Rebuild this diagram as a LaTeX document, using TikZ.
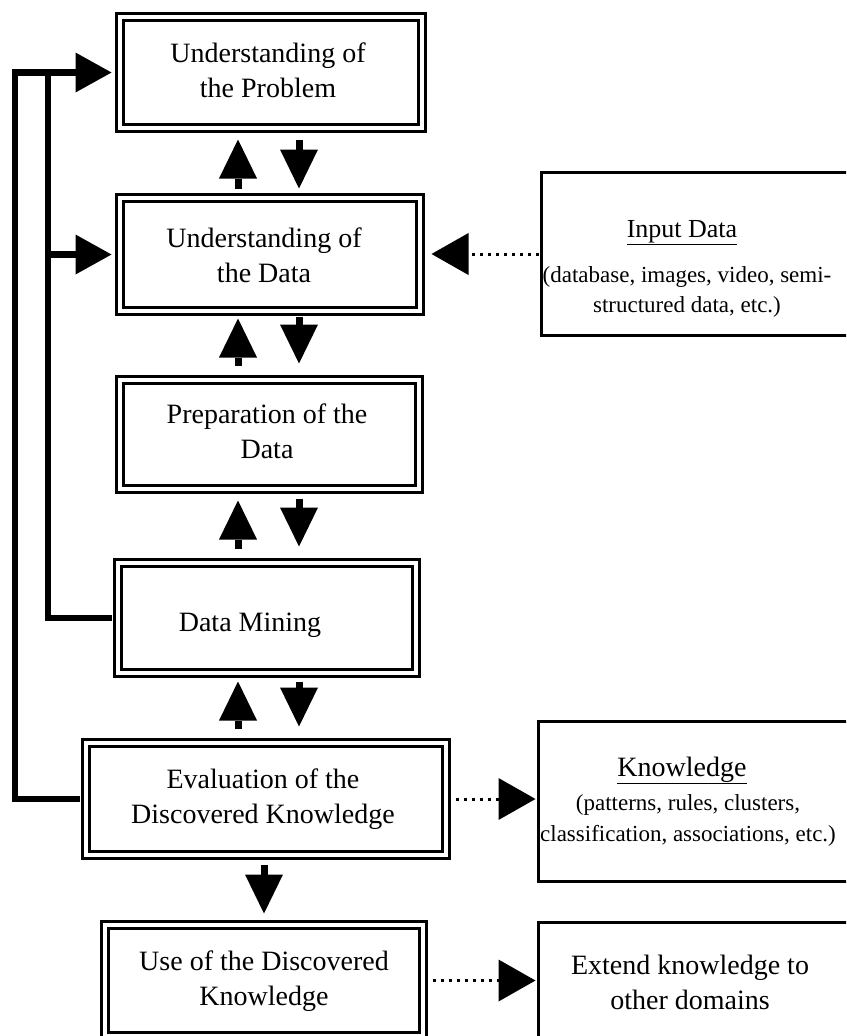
\documentclass[tikz,border=0pt]{standalone}
\usepackage{fontspec}
\setmainfont{Liberation Serif}
\usetikzlibrary{arrows.meta}
\begin{document}
\begin{tikzpicture}[x=1pt,y=-1pt,
 dbox/.style={draw, line width=3pt, double=white, double distance=4pt, inner sep=0pt},
 sbox/.style={draw, line width=3pt, inner sep=0pt},
 big/.style={font=\fontsize{28}{35}\selectfont, align=center, inner sep=0pt},
 small/.style={font=\fontsize{23}{30}\selectfont, align=center, inner sep=0pt},
 varrow/.style={line width=7pt, -{Triangle[length=39pt,width=38pt,line width=0pt]}},
 fb/.style={line width=6.5pt},
 fba/.style={fb, -{Triangle[length=36pt,width=40pt,line width=0pt]}},
 darr/.style={line width=3pt, dash pattern=on 3pt off 5pt, -{Triangle[length=37pt,width=42pt,line width=0pt]}}]
\useasboundingbox (0,0) rectangle (846,1036);
\fill[white] (0,0) rectangle (846,1036);
\clip (0,0) rectangle (846,1036);
% columns
\coordinate (xo) at (15,0);
\coordinate (xi) at (48,0);
\coordinate (cu) at (238,0);
\coordinate (cd) at (299,0);
\coordinate (ce) at (264,0);
% boxes
\node[dbox, minimum width=302pt, minimum height=111pt] (b1) at (271,72.5) {};
\node[dbox, minimum width=300pt, minimum height=113pt] (b2) at (270,254.5) {};
\node[dbox, minimum width=299pt, minimum height=109pt] (b3) at (269.5,434.5) {};
\node[dbox, minimum width=298pt, minimum height=110pt] (b4) at (267,618) {};
\node[dbox, minimum width=360pt, minimum height=112pt] (ev) at (266,799) {};
\node[dbox, minimum width=318pt, minimum height=111pt] (use) at (264,980.5) {};
\node[sbox, minimum width=309pt, minimum height=163pt] (inp) at (696,254) {};
\node[sbox, minimum width=312pt, minimum height=160pt] (kn) at (694.5,801.5) {};
\node[sbox, minimum width=312pt, minimum height=123pt] (ex) at (694.5,984) {};
% texts
\node[big] (t1) at (268,70) {Understanding of\\the Problem};
\node[big] (t2) at (264,255) {Understanding of\\the Data};
\node[big] (t3) at (267,431) {Preparation of the\\Data};
\node[big] (t4) at (250,625) {Data Mining};
\node[big] (t5) at (263,799) {Evaluation of the\\Discovered Knowledge};
\node[big] (t6) at (264,981) {Use of the Discovered\\Knowledge};
\node[big] (t7) at (690,982) {Extend knowledge to\\other domains};
\node[font=\fontsize{26}{30}\selectfont, inner sep=0pt, anchor=base] (ti) at (682,237) {\underline{Input Data}};
\node[small] (tis) at (687,292) {(database, images, video, semi-\\structured data, etc.)};
\node[font=\fontsize{28}{30}\selectfont, inner sep=0pt, anchor=base] (tk) at (682,776) {\underline{Knowledge}};
\node[small, font=\fontsize{23}{31}\selectfont] (tks) at (688,820) {(patterns, rules, clusters,\\classification, associations, etc.)};
% feedback lines
\draw[fba, shorten <=5pt, shorten >=7pt] (ev.west) -- (ev.west -| xo) |- (b1.west);
\draw[fb, shorten <=5pt] (b4.west) -| (b1.west -| xi);
\draw[fba, shorten >=7pt] (b2.west -| xi) -- (b2.west);
% vertical arrows
\draw[varrow, shorten <=8pt, shorten >=10pt] (b2.north -| cu) -- (b1.south -| cu);
\draw[varrow, shorten <=10pt, shorten >=8pt] (b1.south -| cd) -- (b2.north -| cd);
\draw[varrow, shorten <=13pt, shorten >=6pt] (b3.north -| cu) -- (b2.south -| cu);
\draw[varrow, shorten <=4pt, shorten >=15pt] (b2.south -| cd) -- (b3.north -| cd);
\draw[varrow, shorten <=13pt, shorten >=10pt] (b4.north -| cu) -- (b3.south -| cu);
\draw[varrow, shorten <=8pt, shorten >=15pt] (b3.south -| cd) -- (b4.north -| cd);
\draw[varrow, shorten <=13pt, shorten >=7pt] (ev.north -| cu) -- (b4.south -| cu);
\draw[varrow, shorten <=7pt, shorten >=15pt] (b4.south -| cd) -- (ev.north -| cd);
\draw[varrow, shorten <=8pt, shorten >=10pt] (ev.south -| ce) -- (use.north -| ce);
% dotted arrows
\draw[darr, shorten <=1.5pt, shorten >=10pt] (inp.west) -- (b2.east |- inp.west);
\draw[darr, shorten <=8pt, shorten >=1.5pt] (ev.east) -- (ev.east -| kn.west);
\draw[darr, shorten <=8pt, shorten >=1.5pt] (use.east) -- (use.east -| ex.west);
\end{tikzpicture}
\end{document}
